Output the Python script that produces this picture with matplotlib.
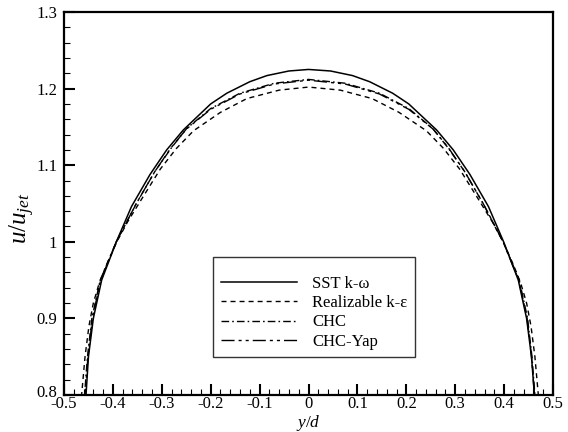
import matplotlib
matplotlib.use("Agg")
import matplotlib.pyplot as plt
from matplotlib.transforms import ScaledTranslation

# ---- data ----
sst_y = [-0.461, -0.455, -0.450, -0.440, -0.423, -0.393, -0.362, -0.324, -0.290, -0.256, -0.200, -0.167,
         -0.120, -0.085, -0.040, 0.000, 0.045, 0.090, 0.125, 0.172, 0.205, 0.262, 0.296, 0.330, 0.368,
         0.399, 0.429, 0.446, 0.456, 0.462, 0.468]
sst_u = [0.75, 0.80, 0.85, 0.90, 0.95, 1.000, 1.046, 1.088, 1.120, 1.146, 1.180, 1.194,
         1.209, 1.217, 1.223, 1.225, 1.223, 1.217, 1.209, 1.194, 1.180, 1.146, 1.120, 1.088, 1.046,
         1.000, 0.950, 0.900, 0.850, 0.800, 0.75]

rke_y = [-0.470, -0.464, -0.457, -0.449, -0.440, -0.428, -0.413, -0.392, -0.370, -0.341, -0.303, -0.270,
         -0.235, -0.180, -0.126, -0.060, 0.000, 0.065, 0.130, 0.185, 0.241, 0.276, 0.309, 0.347, 0.376,
         0.398, 0.419, 0.434, 0.446, 0.455, 0.463, 0.470, 0.476]
rke_u = [0.75, 0.80, 0.85, 0.89, 0.92, 0.946, 0.970, 1.000, 1.026, 1.056, 1.095, 1.122,
         1.145, 1.169, 1.187, 1.198, 1.202, 1.198, 1.187, 1.169, 1.145, 1.122, 1.095, 1.056, 1.026,
         1.000, 0.970, 0.946, 0.920, 0.890, 0.850, 0.800, 0.75]

chc_y = [-0.464, -0.458, -0.452, -0.443, -0.426, -0.393, -0.352, -0.314, -0.280, -0.249, -0.200, -0.140,
         -0.070, 0.000, 0.075, 0.145, 0.205, 0.254, 0.285, 0.319, 0.357, 0.398, 0.431, 0.448, 0.457,
         0.463, 0.469]
chc_u = [0.75, 0.80, 0.85, 0.90, 0.95, 1.000, 1.050, 1.092, 1.123, 1.148, 1.174, 1.194,
         1.207, 1.212, 1.207, 1.194, 1.174, 1.148, 1.123, 1.092, 1.050, 1.000, 0.950, 0.900, 0.850,
         0.800, 0.75]

yap_y = [-0.463, -0.457, -0.451, -0.442, -0.425, -0.393, -0.353, -0.315, -0.282, -0.250, -0.200, -0.140,
         -0.070, 0.000, 0.075, 0.145, 0.205, 0.255, 0.287, 0.320, 0.358, 0.398, 0.430, 0.447, 0.456,
         0.462, 0.468]
yap_u = [0.75, 0.80, 0.85, 0.90, 0.95, 1.000, 1.049, 1.091, 1.122, 1.147, 1.173, 1.193,
         1.206, 1.211, 1.206, 1.193, 1.173, 1.147, 1.122, 1.091, 1.049, 1.000, 0.950, 0.900, 0.850,
         0.800, 0.75]

labels = ["SST k-ω", "Realizable k-ε", "CHC", "CHC-Yap"]
xticks = [-0.5, -0.4, -0.3, -0.2, -0.1, 0, 0.1, 0.2, 0.3, 0.4, 0.5]
xticklabels = ["-0.5", "-0.4", "-0.3", "-0.2", "-0.1", "0", "0.1", "0.2", "0.3", "0.4", "0.5"]
yticks = [0.8, 0.9, 1.0, 1.1, 1.2, 1.3]
yticklabels = ["0.8", "0.9", "1", "1.1", "1.2", "1.3"]

plt.rcParams["font.family"] = ["Liberation Serif", "DejaVu Serif"]
plt.rcParams["mathtext.fontset"] = "custom"
plt.rcParams["mathtext.rm"] = "Liberation Serif"
plt.rcParams["mathtext.it"] = "Liberation Serif:italic"

fig = plt.figure(figsize=(5.68, 4.32), dpi=100)
ax = fig.add_axes([64 / 568, 1 - 395 / 432, (553 - 64) / 568, (395 - 12) / 432])

ax.plot(sst_y, sst_u, color="black", lw=1.1, ls="-", label=labels[0])
ax.plot(rke_y, rke_u, color="black", lw=1.0, ls=(0, (3.6, 2.9)), label=labels[1])
ax.plot(chc_y, chc_u, color="black", lw=1.0, ls=(0, (5.5, 2.2, 1.2, 2.2)), label=labels[2])
ax.plot(yap_y, yap_u, color="black", lw=1.0, ls=(0, (9.4, 2.9, 2.2, 2.9, 2.2, 2.9)), label=labels[3])

ax.set_xlim(-0.5, 0.5)
ax.set_ylim(0.8, 1.3)
ax.set_xticks(xticks)
ax.set_xticklabels(xticklabels)
ax.set_yticks(yticks)
ax.set_yticklabels(yticklabels)
ax.set_xticks([v / 50 for v in range(-25, 26)], minor=True)
ax.set_yticks([0.8 + v / 50 for v in range(0, 26)], minor=True)
ax.tick_params(which="major", direction="in", length=8, width=1.5, labelsize=12,
               top=False, right=False)
ax.tick_params(which="minor", direction="in", length=4, width=0.8, top=False, right=False)
ax.tick_params(axis="x", which="major", pad=1)
ax.tick_params(axis="y", which="major", pad=5)
for s in ax.spines.values():
    s.set_linewidth(1.6)

# raise the lowest y tick label a little, as in the reference
first = ax.yaxis.get_major_ticks()[0].label1
first.set_transform(first.get_transform() + ScaledTranslation(0, 4 / 100, fig.dpi_scale_trans))

ax.set_xlabel("$y/d$", fontsize=12.5)
ax.xaxis.set_label_coords(0.5, (395 - 413) / 383)
ax.set_ylabel("$u/u_{jet}$", fontsize=18)
ax.yaxis.set_label_coords((37 - 64) / 489, (395 - 218) / 383)

leg = ax.legend(loc="upper left", bbox_to_anchor=((213 - 64) / 489, (395 - 257) / 383),
                fontsize=12, frameon=True, fancybox=False, edgecolor="black",
                handlelength=4.6, handletextpad=0.9, labelspacing=0.2, borderpad=0.45,
                borderaxespad=0, title=" ", title_fontsize=6.5)
leg.get_frame().set_linewidth(1.0)
for t in leg.get_texts():
    t.set_ha("left")

fig.savefig("out.png", dpi=100)
